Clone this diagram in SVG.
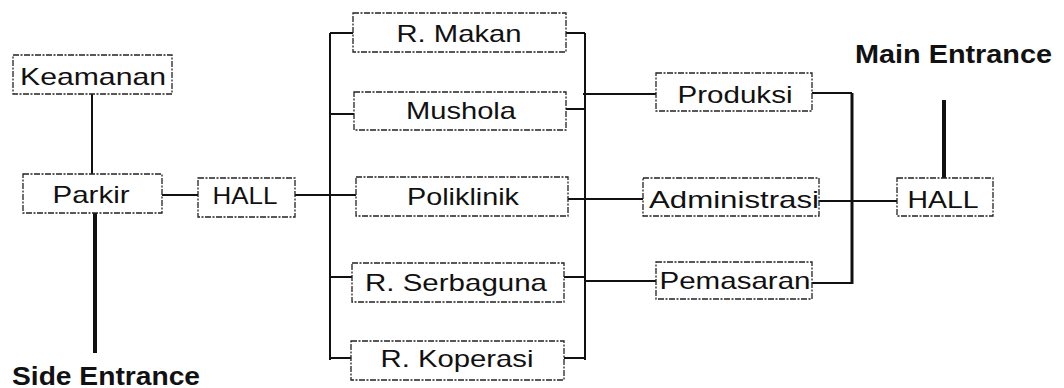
<svg xmlns="http://www.w3.org/2000/svg" width="1064" height="388" viewBox="0 0 1064 388">
<style>
.box{fill:#fff;stroke:#222;stroke-width:1.3;stroke-dasharray:6 1.5 2 1.5}
.t{font-family:"Liberation Sans",Arial,sans-serif;font-size:24px;fill:#111;text-anchor:middle}
.b{font-family:"Liberation Sans",Arial,sans-serif;font-size:25px;font-weight:bold;fill:#111}
.ln{stroke:#111;stroke-width:2;fill:none}
.th{stroke:#111;stroke-width:4;fill:none}
</style>
<rect width="1064" height="388" fill="#fff"/>
<g id="connectors">
<line class="ln" x1="92" y1="94" x2="92" y2="174"/>
<line class="th" x1="95" y1="213" x2="95" y2="353"/>
<line class="ln" x1="162" y1="195" x2="198" y2="195"/>
<line class="ln" x1="295" y1="195" x2="356" y2="195"/>
<line class="ln" x1="330" y1="33" x2="330" y2="360"/>
<line class="ln" x1="330" y1="33" x2="353" y2="33"/>
<line class="ln" x1="330" y1="114" x2="354" y2="114"/>
<line class="ln" x1="330" y1="277" x2="352" y2="277"/>
<line class="ln" x1="330" y1="358" x2="351" y2="358"/>
<line class="ln" x1="585" y1="33" x2="585" y2="360"/>
<line class="ln" x1="566" y1="33" x2="585" y2="33"/>
<line class="ln" x1="566" y1="109" x2="585" y2="109"/>
<line class="ln" x1="564" y1="277" x2="585" y2="277"/>
<line class="ln" x1="564" y1="358" x2="585" y2="358"/>
<line class="ln" x1="583" y1="94" x2="656" y2="94"/>
<line class="ln" x1="568" y1="199" x2="643" y2="199"/>
<line class="ln" x1="585" y1="281" x2="656" y2="281"/>
<line class="th" x1="852" y1="93" x2="852" y2="284" style="stroke-width:3"/>
<line class="ln" x1="812" y1="93" x2="852" y2="93"/>
<line class="ln" x1="812" y1="283" x2="852" y2="283"/>
<line class="ln" x1="819" y1="201" x2="897" y2="201"/>
<line class="th" x1="944" y1="100" x2="944" y2="178"/>
</g>
<g id="keamanan"><rect class="box" x="13" y="55" width="159" height="39"/><text class="t" x="93" y="85" font-size="25" textLength="146" lengthAdjust="spacingAndGlyphs">Keamanan</text></g>
<g id="parkir"><rect class="box" x="23" y="174" width="139" height="39"/><text class="t" x="91" y="203" textLength="77" lengthAdjust="spacingAndGlyphs">Parkir</text></g>
<g id="hall-left"><rect class="box" x="198" y="178" width="97" height="39"/><text class="t" x="245" y="204" textLength="65" lengthAdjust="spacingAndGlyphs">HALL</text></g>
<g id="r-makan"><rect class="box" x="353" y="13" width="213" height="39"/><text class="t" x="459" y="42" textLength="125" lengthAdjust="spacingAndGlyphs">R. Makan</text></g>
<g id="mushola"><rect class="box" x="354" y="92" width="212" height="38"/><text class="t" x="461" y="119" textLength="110" lengthAdjust="spacingAndGlyphs">Mushola</text></g>
<g id="poliklinik"><rect class="box" x="356" y="177" width="212" height="39"/><text class="t" x="463" y="205" textLength="112" lengthAdjust="spacingAndGlyphs">Poliklinik</text></g>
<g id="r-serbaguna"><rect class="box" x="352" y="263" width="212" height="39"/><text class="t" x="456" y="291" textLength="182" lengthAdjust="spacingAndGlyphs">R. Serbaguna</text></g>
<g id="r-koperasi"><rect class="box" x="351" y="341" width="213" height="39"/><text class="t" x="457" y="367" textLength="153" lengthAdjust="spacingAndGlyphs">R. Koperasi</text></g>
<g id="produksi"><rect class="box" x="656" y="73" width="156" height="38"/><text class="t" x="735" y="103" textLength="115" lengthAdjust="spacingAndGlyphs">Produksi</text></g>
<g id="administrasi"><rect class="box" x="643" y="178" width="176" height="38"/><text class="t" x="734" y="208" textLength="170" lengthAdjust="spacingAndGlyphs">Administrasi</text></g>
<g id="pemasaran"><rect class="box" x="656" y="262" width="156" height="37"/><text class="t" x="735" y="289" textLength="151" lengthAdjust="spacingAndGlyphs">Pemasaran</text></g>
<g id="hall-right"><rect class="box" x="897" y="178" width="96" height="38"/><text class="t" x="943" y="208" textLength="71" lengthAdjust="spacingAndGlyphs">HALL</text></g>
<g id="main-entrance"><text class="b" x="855" y="63" textLength="197" lengthAdjust="spacingAndGlyphs">Main Entrance</text></g>
<g id="side-entrance"><text class="b" x="12" y="385" font-size="26" textLength="188" lengthAdjust="spacingAndGlyphs">Side Entrance</text></g>
</svg>
